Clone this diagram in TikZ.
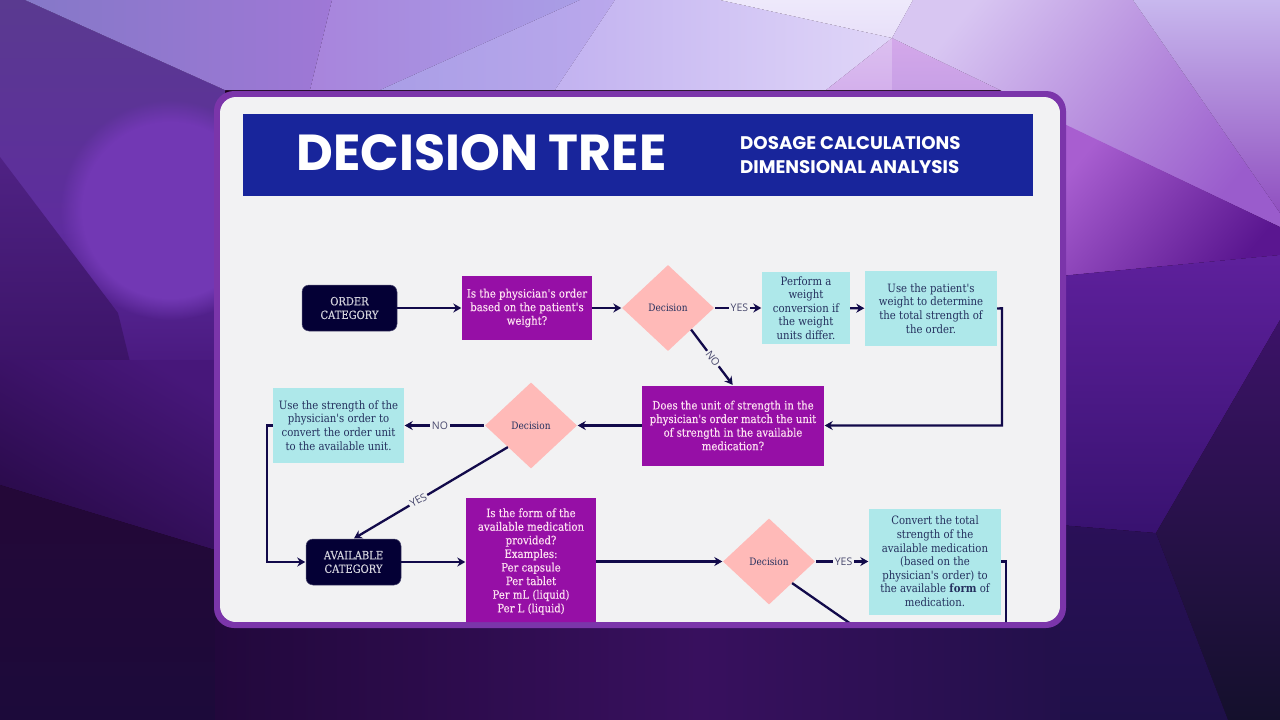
\documentclass[tikz,border=0pt]{standalone}
\usepackage{fontspec}
\usetikzlibrary{arrows.meta,shapes.geometric,calc,fadings}
\setmainfont{DejaVu Serif}
\newfontfamily\slab[FakeStretch=0.88]{DejaVu Serif}
\newfontfamily\slabb[FakeStretch=0.88,FakeBold=0.25]{DejaVu Serif}
\newfontfamily\headfont{Poppins}
\newfontfamily\labfont{Open Sans}
\definecolor{frame}{HTML}{7B35AA}
\definecolor{panel}{HTML}{F2F2F3}
\definecolor{banner}{HTML}{18259B}
\definecolor{ink}{HTML}{120A4A}
\definecolor{navy}{HTML}{040035}
\definecolor{grape}{HTML}{960FA6}
\definecolor{aqua}{HTML}{AEE8EA}
\definecolor{blush}{HTML}{FFBAB8}
\definecolor{lab}{HTML}{4A4A6E}
\definecolor{actink}{HTML}{24305E}
\definecolor{spot}{HTML}{7238B4}
\newcommand\facet[4]{\definecolor{fa}{HTML}{#1}\definecolor{fb}{HTML}{#2}\shade[top color=fa,bottom color=fb,shading angle=#3] #4 -- cycle;}
\tikzset{
  start/.style={rounded corners=7pt,fill=navy,draw=navy!70!white,line width=.5pt,text=white!82!navy,minimum width=95pt,minimum height=46pt,inner sep=0pt,align=center,font=\slabb\fontsize{11.3}{13.6}\selectfont},
  ask/.style={fill=grape,text=white!88!magenta,inner sep=0pt,align=center,font=\slabb\fontsize{11.5}{13.6}\selectfont},
  act/.style={fill=aqua,text=actink,inner sep=0pt,align=center,font=\slab\fontsize{11.5}{13.6}\selectfont},
  dec/.style={diamond,fill=blush,text=actink,minimum width=92pt,minimum height=86pt,inner sep=0pt,font=\slab\fontsize{10.2}{12}\selectfont},
  link/.style={draw=ink,line width=2.3pt},
  flow/.style={link,-{Stealth[length=8pt,width=9pt]},shorten >=.5pt},
  tag/.style={fill=panel,text=lab,inner sep=2pt,font=\labfont\fontsize{10.5}{12}\selectfont},
}
\begin{document}
\begin{tikzpicture}[x=1pt,y=-1pt]
\useasboundingbox (0,0) rectangle (1280,720);
\fill[black!80!violet] (0,0) rectangle (1280,720);
% background facets
\facet{5A3A90}{5E2C9E}{0}{(0,0) -- (25,0) -- (225,90) -- (225,232) -- (0,232)}
\facet{5E2C9E}{4A1A80}{0}{(0,230) -- (225,230) -- (225,362) -- (0,362)}
\fill[spot,path fading=circle with fuzzy edge 20 percent] (170,210) circle (110);
\facet{4F2284}{3C1468}{0}{(0,157) -- (118,313) -- (130,362) -- (0,362)}
\facet{47177A}{280A48}{-30}{(0,360) -- (225,360) -- (225,553) -- (0,485)}
\facet{240838}{1C0A3A}{0}{(0,485) -- (225,553) -- (225,720) -- (0,720)}
\facet{22083C}{38105E}{90}{(215,620) -- (700,620) -- (700,720) -- (215,720)}
\facet{38105E}{22104A}{90}{(700,620) -- (1070,620) -- (1070,720) -- (700,720)}
\facet{8578C8}{9F78D6}{90}{(25,0) -- (332,0) -- (310,90) -- (225,90)}
\facet{A884DC}{A99EE6}{90}{(332,0) -- (580,0) -- (380,90) -- (310,90)}
\facet{A99EE6}{BAA8EC}{90}{(580,0) -- (615,0) -- (555,90) -- (380,90)}
\facet{C2B2F0}{E0D6F8}{90}{(615,0) -- (720,0) -- (892,38) -- (826,90) -- (555,90)}
\facet{EEE9FB}{E8E0F9}{0}{(720,0) -- (913,0) -- (892,38)}
\facet{DCC0F0}{D4B0EC}{0}{(892,38) -- (826,90) -- (892,90)}
\facet{D4A8EA}{C8A0E6}{0}{(892,38) -- (892,90) -- (1000,90)}
\facet{D8C6F2}{9A5CCC}{50}{(892,38) -- (913,0) -- (1133,0) -- (1280,213) -- (1280,227) -- (1065,125) -- (1000,90)}
\facet{C8B8EE}{9050C0}{0}{(1133,0) -- (1280,0) -- (1280,213)}
\facet{A85ED0}{5A1690}{50}{(1060,122) -- (1280,227) -- (1280,255) -- (1060,276)}
\facet{5E209C}{381270}{0}{(1060,276) -- (1280,255) -- (1280,320) -- (1156,533) -- (1060,525)}
\facet{3C1268}{14102C}{0}{(1280,320) -- (1280,720) -- (1228,720) -- (1156,533)}
\facet{2A1058}{1E1048}{0}{(1060,525) -- (1156,533) -- (1228,720) -- (1060,720)}
% card
\fill[frame] (214,91) [rounded corners=20pt] -- (1066,91) -- (1066,628) -- (214,628) -- cycle;
\begin{scope}
\clip[rounded corners=16pt] (220,97) -- (1060,97) -- (1060,622) -- (220,622) -- cycle;
\fill[panel] (220,97) rectangle (1060,622);
\node[fill=banner,minimum width=790pt,minimum height=82pt,inner sep=0pt] (band) at (638,155) {};
\node[text=white,inner sep=0pt,font=\headfont\bfseries\fontsize{50.6}{54}\selectfont] (title) at (481.5,153) {DECISION TREE};
\node[text=white,inner sep=0pt,align=left,anchor=west,font=\headfont\fontsize{18.25}{23.5}\selectfont\bfseries] (sub) at (740,155) {DOSAGE CALCULATIONS\\DIMENSIONAL ANALYSIS};
% nodes
\node[start] (order) at (349.5,308) {ORDER\\CATEGORY};
\node[ask,minimum width=130pt,minimum height=64pt] (q1) at (527,308) {Is the physician's order\\based on the patient's\\weight?};
\node[dec] (d1) at (668,308) {Decision};
\node[act,minimum width=88pt,minimum height=72pt] (p1) at (806,308) {Perform a\\weight\\conversion if\\the weight\\units differ.};
\node[act,minimum width=132pt,minimum height=75pt] (p2) at (931,308.5) {Use the patient's\\weight to determine\\the total strength of\\the order.};
\node[ask,minimum width=182pt,minimum height=80pt] (q2) at (733,425.5) {Does the unit of strength in the\\physician's order match the unit\\of strength in the available\\medication?};
\node[dec] (d2) at (531,425.5) {Decision};
\node[act,minimum width=131pt,minimum height=75pt] (p3) at (338.5,425.5) {Use the strength of the\\physician's order to\\convert the order unit\\to the available unit.};
\node[start] (avail) at (353.5,562) {AVAILABLE\\CATEGORY};
\node[ask,minimum width=130pt,minimum height=128pt] (q3) at (531,561.5) {Is the form of the\\available medication\\provided?\\Examples:\\Per capsule\\Per tablet\\Per mL (liquid)\\Per L (liquid)};
\node[dec] (d3) at (769,561.5) {Decision};
\node[act,minimum width=132pt,minimum height=106pt] (p4) at (935,561.5) {Convert the total\\strength of the\\available medication\\(based on the\\physician's order) to\\the available \textbf{form} of\\medication.};
% free ends
\coordinate (e2) at (1002,308.3);
\coordinate (e3) at (1006,640);
\coordinate (e4) at (874,640);
\coordinate (e5) at (267,425.5);
% connectors
\draw[flow] (order.east) -- (q1.west);
\draw[flow] (q1) -- (d1);
\draw[flow] ([xshift=1pt]d1.east) -- node[tag,pos=.52] {YES} (p1);
\draw[flow] (p1) -- (p2);
\draw[flow] (p2.east) -- (e2) |- (q2.east);
\draw[flow] (q2) -- (d2);
\draw[flow] ([xshift=-1pt]d2.west) -- node[tag,pos=.55] {NO} (p3);
\draw[flow] (p3.west) -- (e5) |- (avail.west);
\draw[flow] (d1.south east) -- node[tag,rotate=-54,pos=.52,inner sep=1.5pt] {NO} (q2.north);
\draw[flow] (d2.south west) -- node[tag,rotate=30,pos=.58,inner sep=1.5pt] {YES} (avail.north);
\draw[flow] (avail.east) -- (avail.east -| q3.west);
\draw[flow] (q3.east) -- (d3.west);
\draw[flow] ([xshift=1pt]d3.east) -- node[tag,pos=.52] {YES} (p4.west);
\draw[link] (p4.east) -| (e3);
\draw[link] (d3.south east) -- (e4);
\end{scope}
\end{tikzpicture}
\end{document}
